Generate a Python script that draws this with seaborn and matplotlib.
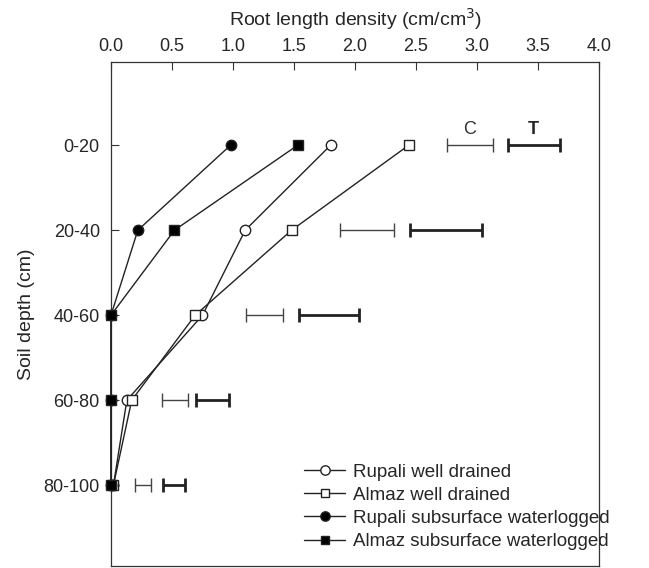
import numpy as np
import pandas as pd
import matplotlib.pyplot as plt
import seaborn as sns

# Depth classes (top to bottom)
depths = ['0-20', '20-40', '40-60', '60-80', '80-100']

# Root length density (cm/cm3) per depth class
rupali_drained = [1.80, 1.10, 0.75, 0.13, 0.02]
almaz_drained = [2.44, 1.48, 0.69, 0.17, 0.02]
rupali_waterlogged = [0.98, 0.22, 0.0, 0.0, 0.0]
almaz_waterlogged = [1.53, 0.52, 0.0, 0.0, 0.0]

# LSD bars (left and right ends) for cultivar (C) and treatment (T)
c_left = [2.75, 1.88, 1.11, 0.42, 0.20]
c_right = [3.13, 2.32, 1.41, 0.63, 0.33]
t_left = [3.25, 2.45, 1.54, 0.70, 0.43]
t_right = [3.68, 3.04, 2.03, 0.97, 0.61]

sns.set_style("ticks")
plt.rcParams['font.family'] = ['Liberation Sans', 'DejaVu Sans']

series = {
    'Rupali well drained': (rupali_drained, 'o', 'white'),
    'Almaz well drained': (almaz_drained, 's', 'white'),
    'Rupali subsurface waterlogged': (rupali_waterlogged, 'o', 'black'),
    'Almaz subsurface waterlogged': (almaz_waterlogged, 's', 'black'),
}

fig = plt.figure(figsize=(6.49, 5.68), dpi=100)
ax = fig.add_axes([0.171, 0.0035, 0.752, 0.8875])

pos = np.arange(len(depths))
for name, (vals, mk, fc) in series.items():
    df = pd.DataFrame({'rld': vals, 'depth': pos})
    sns.lineplot(data=df, x='rld', y='depth', orient='y', sort=False, ax=ax,
                 color='#222222', linewidth=1.0, marker=mk, markersize=7.5 if mk == 'o' else 7,
                 markerfacecolor=fc, markeredgecolor='#222222', markeredgewidth=1.0,
                 label=name, clip_on=False, zorder=3)

# LSD bars
c_mid = (np.array(c_left) + np.array(c_right)) / 2
c_half = (np.array(c_right) - np.array(c_left)) / 2
t_mid = (np.array(t_left) + np.array(t_right)) / 2
t_half = (np.array(t_right) - np.array(t_left)) / 2
ax.errorbar(c_mid, pos, xerr=c_half, fmt='none', ecolor='#444444',
            elinewidth=1.0, capsize=5, capthick=1.0)
ax.errorbar(t_mid, pos, xerr=t_half, fmt='none', ecolor='#222222',
            elinewidth=2.0, capsize=5, capthick=2.0)
ax.text(c_mid[0], pos[0] - 0.08, 'C', ha='center', va='bottom', fontsize=13, color='#333333')
ax.text(t_mid[0], pos[0] - 0.08, 'T', ha='center', va='bottom', fontsize=13, fontweight='bold')

ax.set_xlim(0, 4.0)
ax.set_xticks(np.arange(0, 4.01, 0.5))
ax.set_xticklabels([f'{v:.1f}' for v in np.arange(0, 4.01, 0.5)])
ax.set_ylim(4.95, -0.98)
ax.set_yticks(pos)
ax.set_yticklabels(depths)
ax.xaxis.tick_top()
ax.xaxis.set_label_position('top')
ax.tick_params(axis='both', labelsize=13, direction='in', length=6, width=0.8, color='#333333')
ax.tick_params(axis='x', pad=5)
ax.tick_params(axis='y', pad=8)
ax.set_xlabel('Root length density (cm/cm$^3$)', fontsize=14, labelpad=9)
ax.set_ylabel('Soil depth (cm)', fontsize=14, labelpad=6)
for s in ax.spines.values():
    s.set_linewidth(0.9)
    s.set_color('#333333')

ax.legend(loc='lower right', bbox_to_anchor=(1.056, -0.002), frameon=False, fontsize=13.5,
          handlelength=2.2, handletextpad=0.4, labelspacing=0.32, markerscale=0.9)

plt.savefig('out.png', dpi=100)
